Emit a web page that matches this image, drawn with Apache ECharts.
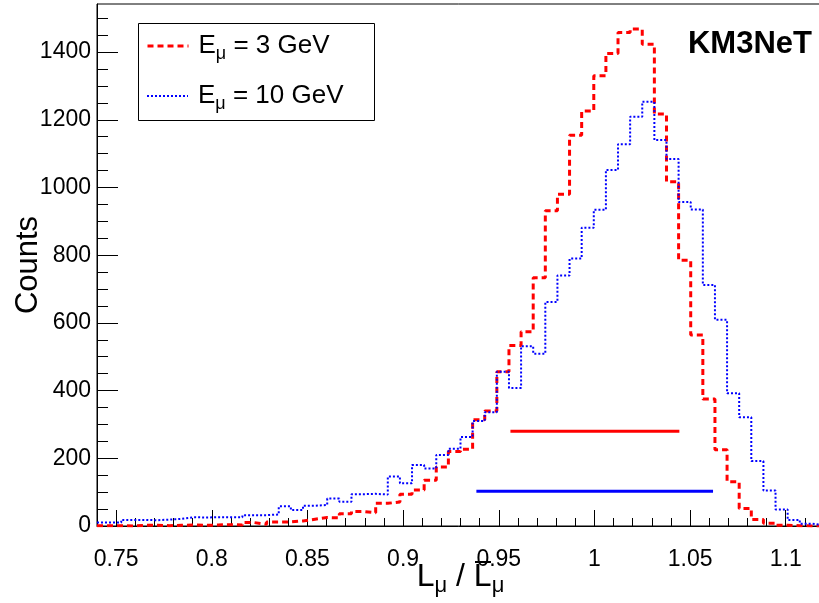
<!DOCTYPE html>
<html><head><meta charset="utf-8">
<script src="https://cdn.jsdelivr.net/npm/echarts@6/dist/echarts.min.js"></script>
<style>html,body{margin:0;padding:0;background:#fff}#c{width:819px;height:603px}</style>
</head><body><div id="c"></div>
<script>
// ---- data ----
const xMin = 0.74, xMax = 1.12, nBins = 60;
const seriesNames = ['E_μ = 3 GeV', 'E_μ = 10 GeV'];
const counts3GeV = [1,1,0,2,2,1,2,3,2,3, 4,3,10,5,12,12,15,20,25,24, 36,43,39,67,71,94,106,135,174,220,
  227,314,340,456,533,574,733,931,980,1154, 1226,1330,1396,1458,1468,1423,1217,1017,785,564,
  375,225,131,52,19,8,2,1,0,0];
const counts10GeV = [10,10,18,18,17,19,21,26,25,26, 26,26,32,32,34,58,47,60,62,81, 72,94,95,93,146,126,180,170,210,228,
  263,310,336,456,408,531,509,662,740,790, 881,934,1052,1128,1209,1253,1140,1084,957,935,
  712,609,392,321,192,105,49,18,7,3];
const widthRange3 = [0.9561, 1.0444], widthLevel3 = 280;
const widthRange10 = [0.9383, 1.0620], widthLevel10 = 103;
const xMajorTicks = [0.75,0.8,0.85,0.9,0.95,1,1.05,1.1];
const xMinorTicks = [0.74,0.76,0.77,0.78,0.79,0.81,0.82,0.83,0.84,0.86,0.87,0.88,0.89,0.91,0.92,0.93,0.94,
  0.96,0.97,0.98,0.99,1.01,1.02,1.03,1.04,1.06,1.07,1.08,1.09,1.11,1.12];
const yMajorTicks = [0,200,400,600,800,1000,1200,1400];
const yMinorTicks = [50,100,150,250,300,350,450,500,550,650,700,750,850,900,950,1050,1100,1150,1250,1300,1350,1450,1500];
const yMax = 1542;

// ---- build ----
const binW = (xMax - xMin) / nBins;
function histData(arr) {
  const d = arr.map((v, k) => [xMin + k * binW, v]);
  d.push([xMax, arr[arr.length - 1]]);
  return d;
}
const FONT = 'Liberation Sans, Arial, Helvetica, sans-serif';
const rich = {
  n: {fontSize: 26, fontFamily: FONT, color: '#000'},
  s: {fontSize: 18, fontFamily: FONT, color: '#000', padding: [16, 0, 0, 0]}
};
function fmtLegend(name) {
  const parts = name.split('_μ');
  return '{n|' + parts[0] + '}{s|μ}{n|' + parts[1] + '}';
}
const redStyle = {color: '#ff0000', width: 3, type: [6, 4]};
const blueStyle = {color: '#0000ff', width: 2, type: [2, 2]};
const chart = echarts.init(document.getElementById('c'), null, {renderer: 'canvas'});
const tickStyle = {color: '#000', width: 1};
const legendCommon = {z: 5, itemWidth: 41, itemHeight: 14, itemGap: 0, padding: 0,
  itemStyle: {color: 'rgba(0,0,0,0)', borderWidth: 0, opacity: 0},
  formatter: fmtLegend, textStyle: {rich: rich, padding: [0,0,0,5]}};
chart.setOption({
  animation: false,
  backgroundColor: '#fff',
  textStyle: {fontFamily: FONT},
  title: {text: 'KM3NeT', right: 2, top: 24, textStyle: {fontSize: 31, fontWeight: 'bold', fontFamily: FONT, color: '#000'}},
  grid: {left: 97, top: 4, width: 727, bottom: 77, show: true, borderColor: '#000', borderWidth: 1,
         containLabel: false, outerBoundsMode: 'none'},
  graphic: [
    {type: 'rect', z: 3, shape: {x: 138.5, y: 23.5, width: 236, height: 97}, style: {fill: '#fff', stroke: '#000', lineWidth: 1}},
    // overline (bar) over the second L of the axis title
    {type: 'rect', z: 10, shape: {x: 475, y: 561, width: 16, height: 2}, style: {fill: '#000', stroke: null}}
  ],
  legend: [
    Object.assign({data: [seriesNames[0]], left: 146, top: 33, lineStyle: redStyle}, legendCommon),
    Object.assign({data: [seriesNames[1]], left: 146, top: 83, lineStyle: blueStyle}, legendCommon)
  ],
  xAxis: [
    {type: 'value', min: xMin, max: xMax, position: 'bottom',
     axisLine: {show: true, onZero: false, lineStyle: tickStyle},
     axisTick: {show: true, inside: true, length: 16, customValues: xMajorTicks, lineStyle: tickStyle},
     axisLabel: {show: true, customValues: xMajorTicks, fontSize: 23, color: '#000', fontFamily: FONT, margin: 22,
                 formatter: v => String(v)},
     splitLine: {show: false},
     name: '{n|L}{s|μ}{n| / L}{s|μ}', nameLocation: 'middle', nameGap: 31, nameMoveOverlap: false,
     nameTextStyle: {rich: {n: {fontSize: 32, fontFamily: FONT, color: '#000'}, s: {fontSize: 22, fontFamily: FONT, color: '#000', padding: [18,0,0,0]}}}},
    {type: 'value', min: xMin, max: xMax, position: 'bottom',
     axisLine: {show: false, onZero: false},
     axisTick: {show: true, inside: true, length: 8, customValues: xMinorTicks, lineStyle: tickStyle},
     axisLabel: {show: false}, splitLine: {show: false}}
  ],
  yAxis: [
    {type: 'value', min: 0, max: yMax, position: 'left',
     axisLine: {show: true, onZero: false, lineStyle: tickStyle},
     axisTick: {show: true, inside: true, length: 21, customValues: yMajorTicks, lineStyle: tickStyle},
     axisLabel: {show: true, customValues: yMajorTicks, fontSize: 23, color: '#000', fontFamily: FONT, margin: 6,
                 formatter: v => String(v)},
     splitLine: {show: false},
     name: 'Counts', nameLocation: 'middle', nameGap: 53, nameRotate: 90, nameMoveOverlap: false,
     nameTextStyle: {fontSize: 31, color: '#000', fontFamily: FONT}},
    {type: 'value', min: 0, max: yMax, position: 'left',
     axisLine: {show: false, onZero: false},
     axisTick: {show: true, inside: true, length: 11, customValues: yMinorTicks, lineStyle: tickStyle},
     axisLabel: {show: false}, splitLine: {show: false}}
  ],
  series: [
    {name: seriesNames[0], type: 'line', step: 'end', symbol: 'none', xAxisIndex: 0, yAxisIndex: 0,
     data: histData(counts3GeV), lineStyle: redStyle, itemStyle: {color: '#ff0000'}, z: 2},
    {name: seriesNames[1], type: 'line', step: 'end', symbol: 'none', xAxisIndex: 0, yAxisIndex: 0,
     data: histData(counts10GeV), lineStyle: blueStyle, itemStyle: {color: '#0000ff'}, z: 3},
    {name: 'width3', type: 'line', symbol: 'none', xAxisIndex: 0, yAxisIndex: 0,
     data: [[widthRange3[0], widthLevel3], [widthRange3[1], widthLevel3]], lineStyle: {color: '#ff0000', width: 3, type: 'solid'}, z: 2},
    {name: 'width10', type: 'line', symbol: 'none', xAxisIndex: 0, yAxisIndex: 0,
     data: [[widthRange10[0], widthLevel10], [widthRange10[1], widthLevel10]], lineStyle: {color: '#0000ff', width: 3, type: 'solid'}, z: 2}
  ]
});
</script></body></html>
